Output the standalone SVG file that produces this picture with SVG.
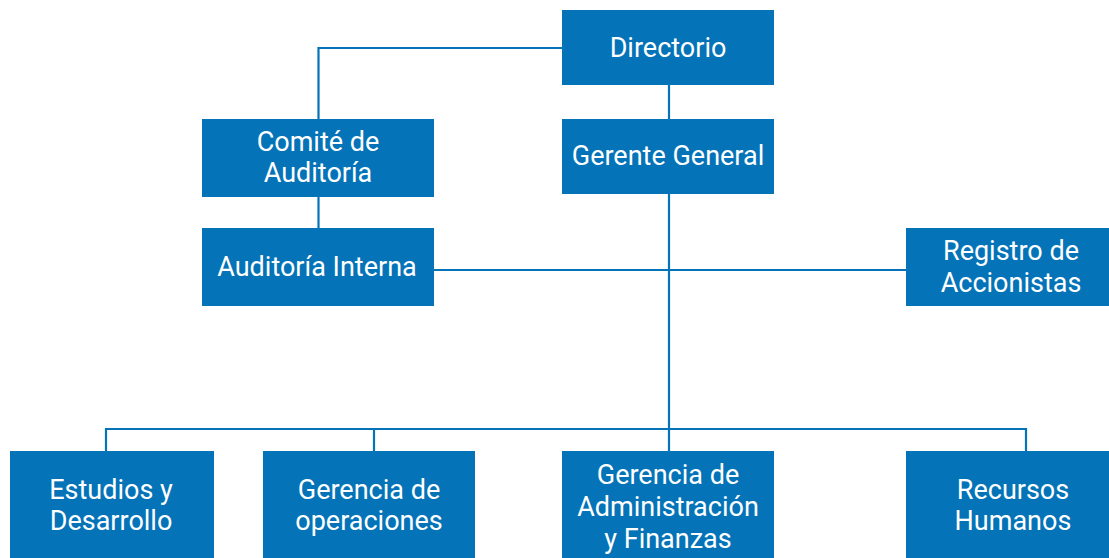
<svg xmlns="http://www.w3.org/2000/svg" width="1109" height="558" viewBox="0 0 1109 558">
<style>
.box{fill:#0473B7}
.t{font-family:Roboto,"Liberation Sans",sans-serif;font-size:27px;fill:#fff;text-anchor:middle}
.c{fill:none;stroke:#0473B7;stroke-width:2.2}
</style>
<rect width="1109" height="558" fill="#fff"/>
<g id="connectors">
<path class="c" d="M562 48H318.5V119"/>
<path class="c" d="M669 85V119"/>
<path class="c" d="M318.5 197V228"/>
<path class="c" d="M434 270H906"/>
<path class="c" d="M669 194V451"/>
<path class="c" d="M106 451V429H1026V451"/>
<path class="c" d="M374 429V451"/>
</g>
<g id="directorio"><rect class="box" x="562" y="10" width="212" height="75"/><text class="t" x="668" y="57">Directorio</text></g>
<g id="gerente-general"><rect class="box" x="562" y="119" width="212" height="75"/><text class="t" x="668" y="165">Gerente General</text></g>
<g id="comite-auditoria"><rect class="box" x="202" y="119" width="232" height="78"/><text class="t" x="318" y="151">Comité de</text><text class="t" x="318" y="182">Auditoría</text></g>
<g id="auditoria-interna"><rect class="box" x="202" y="228" width="232" height="78"/><text class="t" x="317" y="276">Auditoría Interna</text></g>
<g id="registro-accionistas"><rect class="box" x="906" y="228" width="203" height="78"/><text class="t" x="1011" y="260">Registro de</text><text class="t" x="1011" y="292">Accionistas</text></g>
<g id="estudios"><rect class="box" x="10" y="451" width="204" height="107"/><text class="t" x="111" y="499">Estudios y</text><text class="t" x="111" y="530">Desarrollo</text></g>
<g id="gerencia-operaciones"><rect class="box" x="263" y="451" width="212" height="107"/><text class="t" x="369" y="499">Gerencia de</text><text class="t" x="369" y="530">operaciones</text></g>
<g id="gerencia-administracion"><rect class="box" x="562" y="451" width="212" height="107"/><text class="t" x="668" y="484">Gerencia de</text><text class="t" x="668" y="516">Administración</text><text class="t" x="668" y="548">y Finanzas</text></g>
<g id="recursos-humanos"><rect class="box" x="906" y="451" width="203" height="107"/><text class="t" x="1013" y="499">Recursos</text><text class="t" x="1013" y="530">Humanos</text></g>
</svg>
